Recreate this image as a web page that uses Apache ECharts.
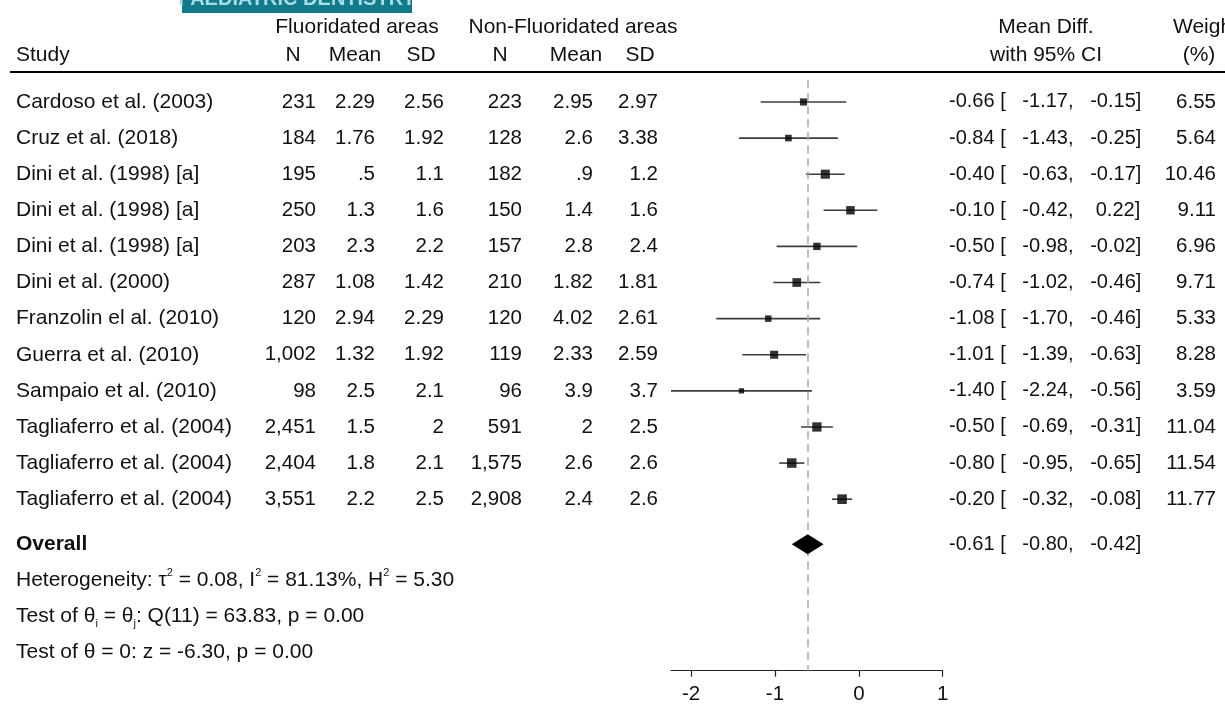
<!DOCTYPE html>
<html><head><meta charset="utf-8">
<script src="https://cdn.jsdelivr.net/npm/echarts@6/dist/echarts.min.js"></script>
<style>html,body{margin:0;padding:0;background:#fff;overflow:hidden}#c{width:1225px;height:704px}</style>
</head><body><div id="c"></div><script>
// ---- data ----
const studies = ["Cardoso et al. (2003)","Cruz et al. (2018)","Dini et al. (1998) [a]","Dini et al. (1998) [a]","Dini et al. (1998) [a]","Dini et al. (2000)","Franzolin el al. (2010)","Guerra et al. (2010)","Sampaio et al. (2010)","Tagliaferro et al. (2004)","Tagliaferro et al. (2004)","Tagliaferro et al. (2004)"];
const fluorN    = ["231","184","195","250","203","287","120","1,002","98","2,451","2,404","3,551"];
const fluorMean = ["2.29","1.76",".5","1.3","2.3","1.08","2.94","1.32","2.5","1.5","1.8","2.2"];
const fluorSD   = ["2.56","1.92","1.1","1.6","2.2","1.42","2.29","1.92","2.1","2","2.1","2.5"];
const nonN      = ["223","128","182","150","157","210","120","119","96","591","1,575","2,908"];
const nonMean   = ["2.95","2.6",".9","1.4","2.8","1.82","4.02","2.33","3.9","2","2.6","2.4"];
const nonSD     = ["2.97","3.38","1.2","1.6","2.4","1.81","2.61","2.59","3.7","2.5","2.6","2.6"];
const meanDiff  = [-0.66,-0.84,-0.40,-0.10,-0.50,-0.74,-1.08,-1.01,-1.40,-0.50,-0.80,-0.20];
const ciLow     = [-1.17,-1.43,-0.63,-0.42,-0.98,-1.02,-1.70,-1.39,-2.24,-0.69,-0.95,-0.32];
const ciHigh    = [-0.15,-0.25,-0.17,0.22,-0.02,-0.46,-0.46,-0.63,-0.56,-0.31,-0.65,-0.08];
const weights   = [6.55,5.64,10.46,9.11,6.96,9.71,5.33,8.28,3.59,11.04,11.54,11.77];
const overall   = {md:-0.61, lo:-0.80, hi:-0.42};
const xTicks    = [-2,-1,0,1];
const hetLines  = [
  "Heterogeneity: τ{sup|2} = 0.08, I{sup|2} = 81.13%, H{sup|2} = 5.30",
  "Test of θ{sub|i} = θ{sub|j}: Q(11) = 63.83, p = 0.00",
  "Test of θ = 0: z = -6.30, p = 0.00"
];

// ---- layout ----
const FONT = '"Liberation Sans", Arial, sans-serif';
const FS = 21;     // labels
const FSN = 20.5;  // numbers
const TXT = '#111';
const overallRow = 12.25;
const hetRows = [13.25, 14.25, 15.25];

const pad = (v, w) => { const s = v.toFixed(2); return ' '.repeat(Math.max(0, w - s.length)) + s; };
const ciText = (m, l, h) => m.toFixed(2) + ' [' + pad(l, 8) + ',' + pad(h, 8) + ']';

function txt(text, x, y, align, extra) {
  return {type:'text', silent:true, style:Object.assign({text, x, y, align, verticalAlign:'middle', fontSize:FS, fontFamily:FONT, fill:TXT}, extra||{})};
}
const num = {fontSize:FSN};
const ci = {fontSize:20};

const chart = echarts.init(document.getElementById('c'), null, {renderer:'canvas'});

const option = {
  animation:false,
  backgroundColor:'#fff',
  grid:{left:671, right:282.3, top:80.3, bottom:33.3, outerBoundsMode:'none', containLabel:false},
  xAxis:{type:'value', min:-2.24, max:1, position:'bottom',
    axisLine:{show:true, onZero:false, lineStyle:{color:'#222', width:1.2}},
    axisTick:{show:true, customValues:xTicks, length:6, lineStyle:{color:'#222', width:1.2}},
    axisLabel:{customValues:xTicks, fontSize:20.5, fontFamily:FONT, color:TXT, margin:13},
    splitLine:{show:false}},
  yAxis:{type:'value', min:-0.6, max:15.75, inverse:true, show:false},
  graphic:[
    {type:'rect', shape:{x:182, y:0, width:230, height:13}, style:{fill:'#117a8b'}, silent:true},
    {type:'text', silent:true, style:{text:'PAEDIATRIC DENTISTRY', x:297, y:-1, align:'center', verticalAlign:'middle', fontSize:20, fontWeight:'bold', fontFamily:FONT, fill:'#a9dce4'}},
    txt('Fluoridated areas', 357, 27, 'center'),
    txt('Non-Fluoridated areas', 573, 27, 'center'),
    txt('Mean Diff.', 1046, 27, 'center'),
    txt('Weight', 1173, 27, 'left'),
    txt('Study', 16, 55, 'left'),
    txt('N', 293, 55, 'center'),
    txt('Mean', 355, 55, 'center'),
    txt('SD', 421, 55, 'center'),
    txt('N', 500, 55, 'center'),
    txt('Mean', 576, 55, 'center'),
    txt('SD', 640, 55, 'center'),
    txt('with 95% CI', 1046, 55, 'center'),
    txt('(%)', 1199, 55, 'center'),
    {type:'line', silent:true, shape:{x1:10, y1:72, x2:1225, y2:72}, style:{stroke:'#000', lineWidth:2}}
  ],
  series:[
    { // CI lines + reference line
      type:'custom', name:'ci', clip:false, z:2,
      data: studies.map((s, i) => [ciLow[i], ciHigh[i], i]),
      encode:{x:[0,1], y:2},
      renderItem(params, api){
        const p1 = api.coord([api.value(0), api.value(2)]);
        const p2 = api.coord([api.value(1), api.value(2)]);
        return {type:'line', shape:{x1:p1[0], y1:p1[1], x2:p2[0], y2:p2[1]}, style:{stroke:'#3c3c3c', lineWidth:1.6}};
      },
      markLine:{silent:true, symbol:'none', label:{show:false},
        lineStyle:{color:'#a8a8a8', type:[8,5], width:1.5},
        data:[{xAxis:overall.md}]}
    },
    { // study markers
      type:'scatter', name:'md', symbol:'rect',
      data: meanDiff.map((m, i) => [m, i, weights[i]]),
      symbolSize: v => 2.8 * Math.sqrt(v[2]),
      itemStyle:{color:'#000'}, z:10
    },
    { // overall diamond
      type:'custom', name:'overall', clip:false, z:10,
      data:[[overall.lo, overall.hi, overall.md, overallRow]],
      encode:{x:[0,1], y:3},
      renderItem(params, api){
        const y = api.value(3);
        const l = api.coord([api.value(0), y]);
        const r = api.coord([api.value(1), y]);
        const c = api.coord([api.value(2), y]);
        const h = 10;
        return {type:'polygon', shape:{points:[[l[0],l[1]],[c[0],c[1]-h],[r[0],r[1]],[c[0],c[1]+h]]}, style:{fill:'#000'}};
      }
    },
    { // table text per study row
      type:'custom', name:'table', clip:false, silent:true,
      data: studies.map((s, i) => [0, i]), encode:{x:0, y:1},
      renderItem(params, api){
        const i = params.dataIndex;
        const y = api.coord([0, api.value(1)])[1];
        return {type:'group', children:[
          txt(studies[i], 16, y, 'left'),
          txt(fluorN[i], 316, y, 'right', num),
          txt(fluorMean[i], 375, y, 'right', num),
          txt(fluorSD[i], 444, y, 'right', num),
          txt(nonN[i], 522, y, 'right', num),
          txt(nonMean[i], 593, y, 'right', num),
          txt(nonSD[i], 658, y, 'right', num),
          txt(ciText(meanDiff[i], ciLow[i], ciHigh[i]), 949, y, 'left', ci),
          txt(weights[i].toFixed(2), 1216, y, 'right', num)
        ]};
      }
    },
    { // summary text
      type:'custom', name:'summary', clip:false, silent:true,
      data: [[0, overallRow]].concat(hetRows.map(r => [0, r])), encode:{x:0, y:1},
      renderItem(params, api){
        const i = params.dataIndex;
        const y = api.coord([0, api.value(1)])[1];
        if (i === 0) {
          return {type:'group', children:[
            txt('Overall', 16, y, 'left', {fontWeight:'bold'}),
            txt(ciText(overall.md, overall.lo, overall.hi), 949, y, 'left', ci)
          ]};
        }
        return txt(hetLines[i-1], 16, y, 'left', {lineHeight:25, rich:{
          sup:{fontSize:11, lineHeight:11, verticalAlign:'top', fontFamily:FONT, fill:TXT},
          sub:{fontSize:11, lineHeight:11, verticalAlign:'bottom', fontFamily:FONT, fill:TXT}
        }});
      }
    }
  ]
};
chart.setOption(option);
</script></body></html>
